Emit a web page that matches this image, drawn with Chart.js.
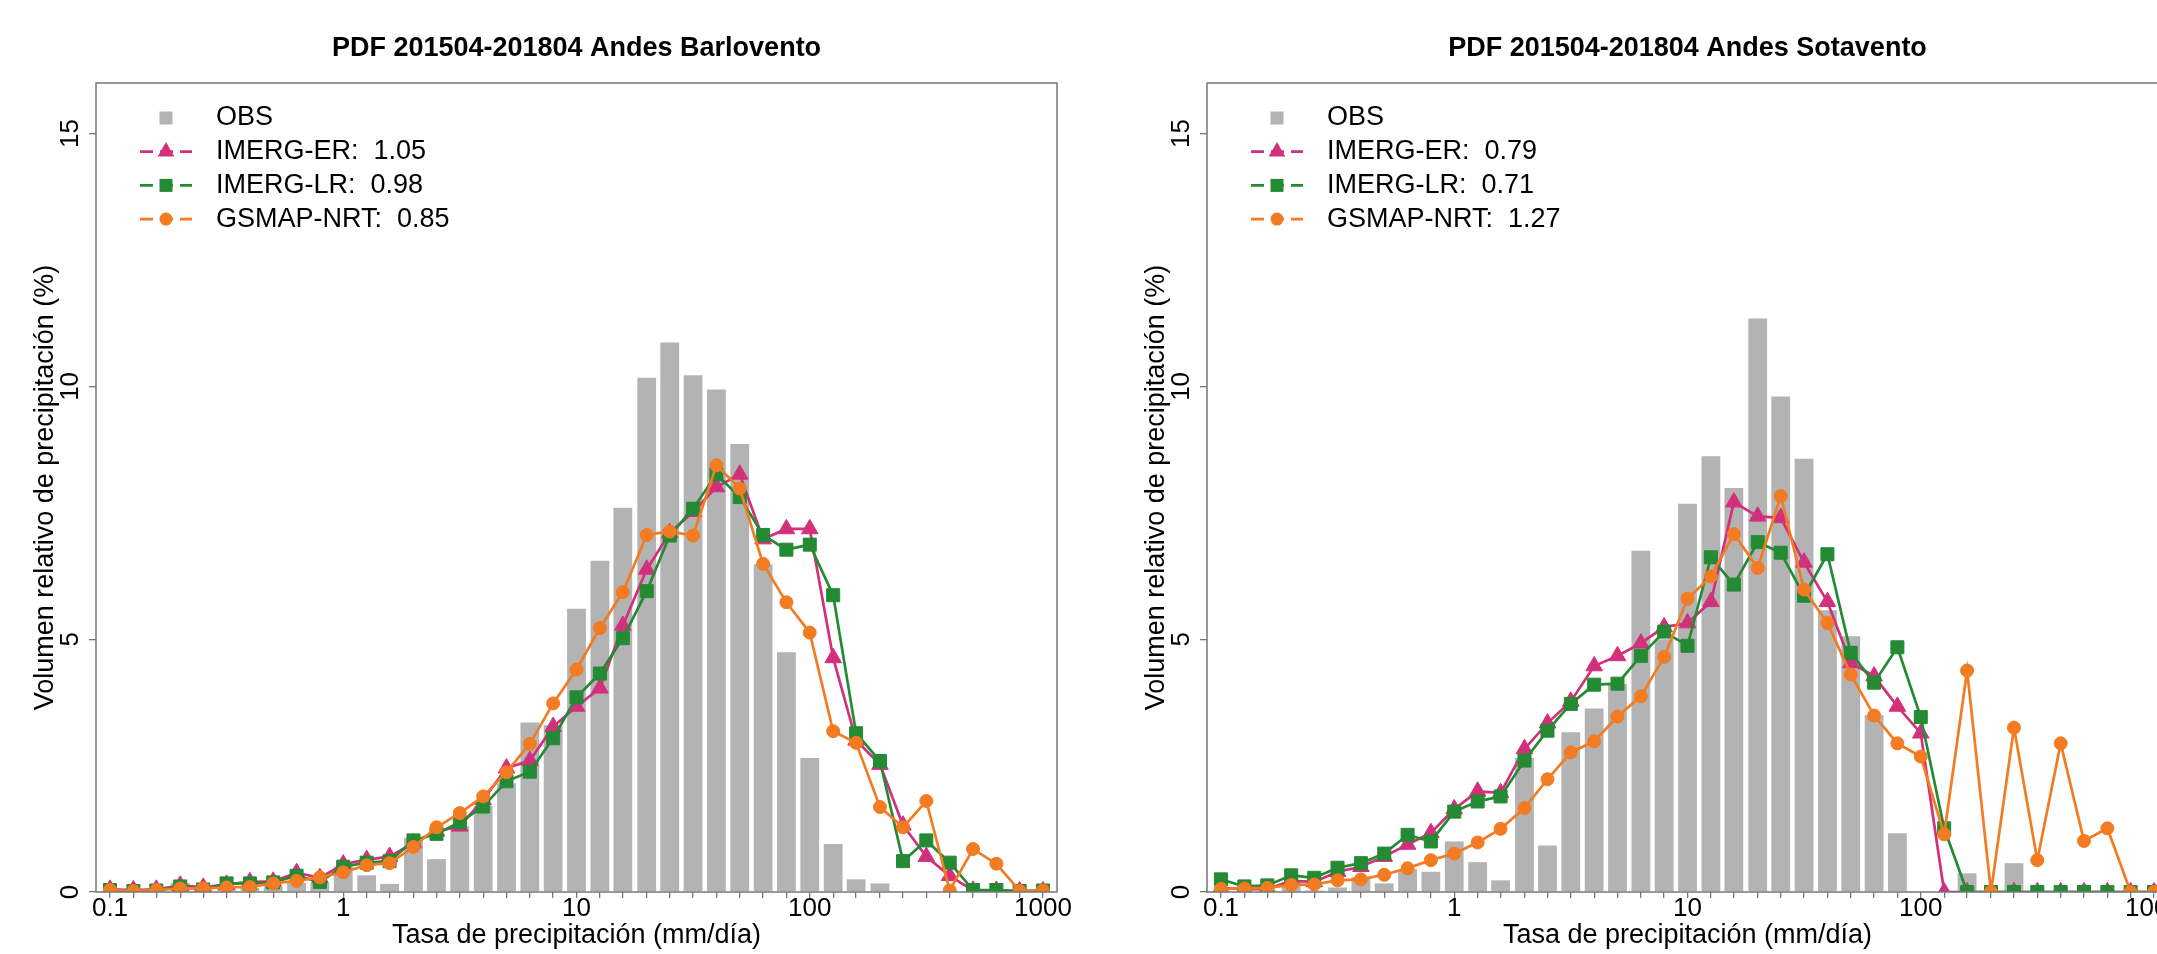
<!DOCTYPE html>
<html lang="es">
<head>
<meta charset="UTF-8">
<title>PDF 201504-201804 Andes</title>
<style>
  html, body { margin: 0; padding: 0; background: #fff; overflow: hidden; }
  #page { position: relative; width: 2157px; height: 954px; overflow: hidden; }
  .panel { position: absolute; top: 0; width: 1110px; height: 954px; }
  #panel-left { left: 0; }
  #panel-right { left: 1111px; }
</style>
</head>
<body>
<div id="page">
  <div class="panel" id="panel-left"><canvas id="chartLeft"></canvas></div>
  <div class="panel" id="panel-right"><canvas id="chartRight"></canvas></div>
</div>
<script src="https://cdn.jsdelivr.net/npm/chart.js"></script>
<script>
// centros de los intervalos de precipitacion (mm/dia), escala log
const binMids = [0.1, 0.126, 0.158, 0.2, 0.251, 0.316, 0.398, 0.501, 0.631, 0.794,
  1, 1.26, 1.58, 2, 2.51, 3.16, 3.98, 5.01, 6.31, 7.94,
  10, 12.6, 15.8, 20, 25.1, 31.6, 39.8, 50.1, 63.1, 79.4,
  100, 126, 158, 200, 251, 316, 398, 501, 631, 794, 1000];
const xMajorTicks = [0.1, 1, 10, 100, 1000];
const yTicks = [0, 5, 10, 15];

// Andes Barlovento
const obsBarlo = [0.02, 0.02, 0.04, 0.18, 0.05, 0.05, 0.08, 0.1, 0.18, 0.18,
  0.5, 0.33, 0.16, 1.07, 0.65, 1.3, 1.7, 2.15, 3.35, 3.3,
  5.6, 6.55, 7.6, 10.17, 10.87, 10.22, 9.94, 8.86, 6.48, 4.74,
  2.65, 0.95, 0.25, 0.17, 0, 0, 0, 0, 0, 0, 0];
const erBarlo = [0.05, 0.04, 0.05, 0.13, 0.09, 0.15, 0.2, 0.21, 0.38, 0.28,
  0.55, 0.64, 0.7, 0.97, 1.2, 1.3, 1.82, 2.45, 2.6, 3.27,
  3.67, 4.03, 5.27, 6.38, 7.1, 7.52, 8.01, 8.26, 6.98, 7.18,
  7.18, 4.63, 3.0, 2.52, 1.32, 0.7, 0.32, 0.03, 0.03, 0.02, 0.02];
const lrBarlo = [0.04, 0.02, 0.03, 0.11, 0.05, 0.17, 0.17, 0.19, 0.32, 0.2,
  0.5, 0.58, 0.61, 1.02, 1.15, 1.38, 1.69, 2.19, 2.38, 3.04,
  3.85, 4.32, 5.02, 5.95, 7.05, 7.58, 8.26, 7.81, 7.06, 6.77,
  6.87, 5.87, 3.14, 2.59, 0.61, 1.02, 0.58, 0.04, 0.04, 0.02, 0.03];
const gsBarlo = [0.04, 0.02, 0.04, 0.07, 0.07, 0.09, 0.1, 0.17, 0.22, 0.29,
  0.39, 0.53, 0.57, 0.89, 1.28, 1.56, 1.89, 2.37, 2.93, 3.73,
  4.4, 5.22, 5.93, 7.06, 7.13, 7.05, 8.44, 7.98, 6.49, 5.73,
  5.13, 3.18, 2.95, 1.68, 1.28, 1.8, 0.03, 0.85, 0.56, 0.02, 0.03];
const scoresBarlo = ['1.05', '0.98', '0.85'];

// Andes Sotavento
const obsSota = [0, 0, 0.03, 0.2, 0.03, 0.09, 0.3, 0.17, 0.45, 0.4,
  1.0, 0.59, 0.23, 2.65, 0.92, 3.16, 3.63, 4.12, 6.75, 5.0,
  7.68, 8.62, 7.99, 11.34, 9.8, 8.57, 5.57, 5.06, 3.5, 1.16,
  0, 0, 0.37, 0, 0.57, 0, 0, 0, 0, 0, 0];
const erSota = [0.08, 0.05, 0.06, 0.22, 0.2, 0.4, 0.5, 0.7, 0.94, 1.17,
  1.64, 1.99, 1.96, 2.83, 3.34, 3.77, 4.47, 4.67, 4.92, 5.24,
  5.32, 5.74, 7.71, 7.43, 7.4, 6.52, 5.74, 4.53, 4.27, 3.67,
  3.14, 0, 0, 0, 0, 0, 0, 0, 0, 0, 0];
const lrSota = [0.25, 0.11, 0.13, 0.33, 0.28, 0.48, 0.57, 0.76, 1.13, 1.0,
  1.59, 1.79, 1.89, 2.6, 3.19, 3.72, 4.1, 4.12, 4.67, 5.15,
  4.87, 6.62, 6.08, 6.92, 6.71, 5.86, 6.68, 4.73, 4.14, 4.84,
  3.46, 1.26, 0, 0, 0, 0, 0, 0, 0, 0, 0];
const gsSota = [0.06, 0.07, 0.08, 0.14, 0.15, 0.23, 0.25, 0.34, 0.47, 0.63,
  0.76, 0.98, 1.25, 1.66, 2.23, 2.76, 2.98, 3.47, 3.87, 4.65,
  5.8, 6.24, 7.08, 6.41, 7.83, 5.98, 5.32, 4.3, 3.49, 2.94,
  2.68, 1.14, 4.38, 0, 3.25, 0.63, 2.94, 1.01, 1.26, 0, 0];
const scoresSota = ['0.79', '0.71', '1.27'];

const FONT = "'Liberation Sans', Arial, sans-serif";
const GRAY_BAR = '#b3b3b3';
const PINK = '#d3307c';
const GREEN = '#248a34';
const ORANGE = '#f37b22';
const AXIS = '#777777';

function drawMarker(ctx, style, x, y, color) {
  ctx.fillStyle = color;
  ctx.beginPath();
  if (style === 'triangle') {
    const r = 9.6;
    ctx.moveTo(x, y - r);
    ctx.lineTo(x + r * 0.866, y + r / 2);
    ctx.lineTo(x - r * 0.866, y + r / 2);
    ctx.closePath();
  } else if (style === 'rect') {
    ctx.rect(x - 6.5, y - 6.5, 13, 13);
  } else if (style === 'box') {
    ctx.rect(x - 6.5, y - 6.5, 13, 13);
  } else {
    ctx.arc(x, y, 6.5, 0, Math.PI * 2);
  }
  ctx.fill();
}

// caja, etiquetas del eje y, titulo y leyenda
const decorPlugin = {
  id: 'decor',
  afterDraw(chart, args, opts) {
    const ctx = chart.ctx;
    const a = chart.chartArea;
    const yScale = chart.scales.y;
    ctx.save();
    ctx.strokeStyle = AXIS;
    ctx.lineWidth = 1.5;
    ctx.strokeRect(a.left, a.top, a.right - a.left, a.bottom - a.top);

    ctx.fillStyle = '#000';
    ctx.font = '26px ' + FONT;
    ctx.textAlign = 'center';
    ctx.textBaseline = 'middle';
    yScale.ticks.forEach(t => {
      const y = yScale.getPixelForValue(t.value);
      ctx.save();
      ctx.translate(a.left - 25, y);
      ctx.rotate(-Math.PI / 2);
      ctx.fillText(String(t.value), 0, 0);
      ctx.restore();
    });

    ctx.font = 'bold 27px ' + FONT;
    ctx.fillText(opts.title, (a.left + a.right) / 2, 49);

    // leyenda
    ctx.font = '27px ' + FONT;
    ctx.textAlign = 'left';
    opts.entries.forEach((e, i) => {
      const y = a.top + 35 + i * 33.7;
      const mx = a.left + 70;
      if (e.style !== 'box') {
        ctx.save();
        ctx.strokeStyle = e.color;
        ctx.lineWidth = 2.7;
        ctx.setLineDash([13, 7]);
        ctx.beginPath();
        ctx.moveTo(a.left + 44, y);
        ctx.lineTo(a.left + 96, y);
        ctx.stroke();
        ctx.restore();
      }
      drawMarker(ctx, e.style, mx, y, e.color);
      ctx.fillStyle = '#000';
      ctx.fillText(e.label, a.left + 120, y);
    });
    ctx.restore();
  }
};

function lineSet(label, data, color, style, radius, order) {
  return {
    type: 'line',
    label: label,
    data: data,
    borderColor: color,
    backgroundColor: color,
    borderWidth: 2.7,
    pointStyle: style,
    pointRadius: radius,
    pointBackgroundColor: color,
    pointBorderColor: color,
    pointBorderWidth: 1,
    tension: 0,
    fill: false,
    order: order
  };
}

function makePanel(canvasId, title, obs, er, lr, gs, scores) {
  const ctx = document.getElementById(canvasId).getContext('2d');
  return new Chart(ctx, {
    type: 'bar',
    data: {
      labels: binMids,
      datasets: [
        {
          type: 'bar',
          label: 'OBS',
          data: obs,
          backgroundColor: GRAY_BAR,
          borderWidth: 0,
          barPercentage: 0.82,
          categoryPercentage: 1,
          order: 4
        },
        lineSet('IMERG-ER', er, PINK, 'triangle', 9.6, 3),
        lineSet('IMERG-LR', lr, GREEN, 'rect', 9.2, 2),
        lineSet('GSMAP-NRT', gs, ORANGE, 'circle', 6.5, 1)
      ]
    },
    options: {
      responsive: true,
      maintainAspectRatio: false,
      animation: false,
      events: [],
      layout: { padding: { left: 0, top: 83, right: 53, bottom: 0 } },
      scales: {
        x: {
          type: 'logarithmic',
          min: 0.0871,
          max: 1148,
          offset: false,
          afterBuildTicks: s => { s.ticks = binMids.map(v => ({ value: v })); },
          afterFit: s => { s.height = 62; },
          grid: { display: true, drawOnChartArea: false, drawTicks: true, tickLength: 6,
                  color: AXIS, lineWidth: 1.3, offset: false },
          border: { display: false },
          ticks: {
            autoSkip: false, maxRotation: 0, minRotation: 0, padding: -5,
            color: '#000', font: { family: FONT, size: 26 },
            callback: v => xMajorTicks.includes(v) ? String(v) : ''
          },
          title: { display: true, text: 'Tasa de precipitación (mm/día)', color: '#000',
                   font: { family: FONT, size: 27 }, padding: { top: 0, bottom: 2 } }
        },
        y: {
          type: 'linear',
          min: 0,
          max: 16,
          afterBuildTicks: s => { s.ticks = yTicks.map(v => ({ value: v })); },
          afterFit: s => { s.width = 96; },
          grid: { display: true, drawOnChartArea: false, drawTicks: true, tickLength: 7,
                  color: AXIS, lineWidth: 1.3 },
          border: { display: false },
          ticks: { display: false },
          title: { display: true, text: 'Volumen relativo de precipitación (%)', color: '#000',
                   font: { family: FONT, size: 27 }, padding: { top: 29, bottom: 0 } }
        }
      },
      plugins: {
        legend: { display: false },
        tooltip: { enabled: false },
        decor: {
          title: title,
          entries: [
            { label: 'OBS', style: 'box', color: GRAY_BAR },
            { label: 'IMERG-ER:  ' + scores[0], style: 'triangle', color: PINK },
            { label: 'IMERG-LR:  ' + scores[1], style: 'rect', color: GREEN },
            { label: 'GSMAP-NRT:  ' + scores[2], style: 'circle', color: ORANGE }
          ]
        }
      }
    },
    plugins: [decorPlugin]
  });
}

makePanel('chartLeft', 'PDF 201504-201804 Andes Barlovento',
  obsBarlo, erBarlo, lrBarlo, gsBarlo, scoresBarlo);
makePanel('chartRight', 'PDF 201504-201804 Andes Sotavento',
  obsSota, erSota, lrSota, gsSota, scoresSota);
</script>
</body>
</html>
